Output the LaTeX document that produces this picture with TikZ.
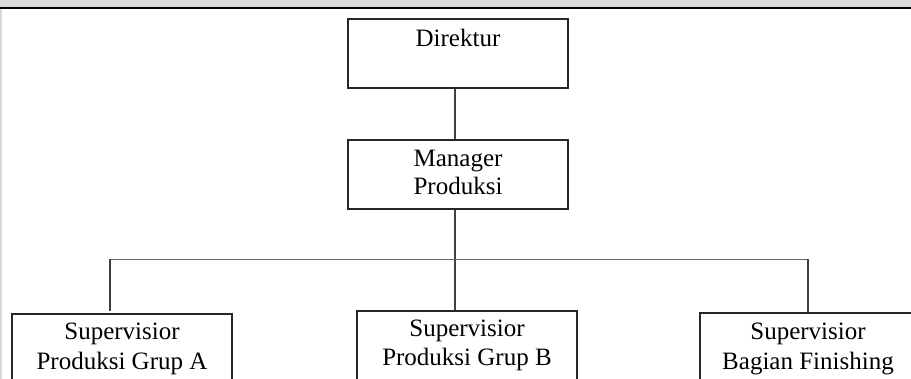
\documentclass[tikz,border=0pt]{standalone}
\usepackage{fontspec}
\setmainfont{Liberation Serif}
\begin{document}
\begin{tikzpicture}[x=1pt,y=-1pt,
  box/.style={draw=black!85,line width=1.6pt,rectangle,inner sep=0pt,minimum width=220pt},
  lbl/.style={font=\fontsize{25}{29}\selectfont,anchor=base,inner sep=0pt,text=black},
  conn/.style={draw=black!75,line width=1.6pt},
  hconn/.style={draw=black!60,line width=1.9pt}]
\useasboundingbox (0,0) rectangle (911,379);
\clip (0,0) rectangle (911,379);
% page frame
\fill[black!15] (0,0) rectangle (911,7.5);
\fill[black!15] (0,7.5) rectangle (2.3,379);
\draw[line width=1.5pt] (0,8.2) -- (911,8.2);
% boxes
\node[box,minimum height=69pt] (dir) at (458,53.5) {};
\node[box,minimum height=69pt] (man) at (458,174.5) {};
\node[box,minimum height=100pt] (sa) at (122,364) {};
\node[box,minimum height=100pt] (sb) at (467,361) {};
\node[box,minimum height=100pt] (sf) at (810,363.3) {};
% texts
\node[lbl] (tdir) at (458,46.7) {Direktur};
\node[lbl] (tman1) at (458,166.7) {Manager};
\node[lbl] (tman2) at (458,195) {Produksi};
\node[lbl] (tsa1) at (122,340) {Supervisior};
\node[lbl] (tsa2) at (122,369.3) {Produksi Grup A};
\node[lbl] (tsb1) at (467,336.7) {Supervisior};
\node[lbl] (tsb2) at (467,365.5) {Produksi Grup B};
\node[lbl] (tsf1) at (808,340) {Supervisior};
\node[lbl] (tsf2) at (808,369.3) {Bagian Finishing};
% connectors
\coordinate (spine) at (455,0);
\coordinate (busL) at (110,259.5);
\coordinate (busR) at (808,259.5);
\coordinate (aend) at (110,310.7);
\draw[conn] (dir.south -| spine) -- (man.north -| spine);
\draw[conn] (man.south -| spine) -- (sb.north -| spine);
\draw[hconn] (busL) -- (busR);
\draw[conn] (busL) -- (aend);
\draw[conn] (busR) -- (sf.north -| busR);
\end{tikzpicture}
\end{document}
